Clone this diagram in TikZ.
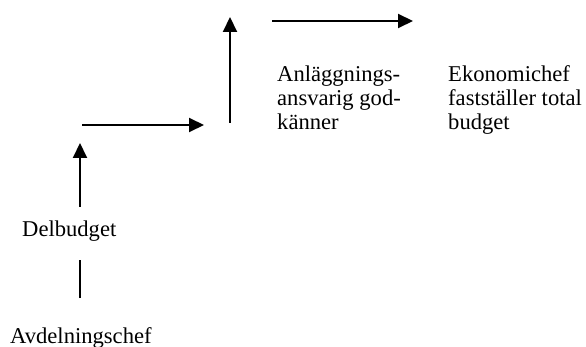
\documentclass[tikz,border=0pt]{standalone}
\usepackage{fontspec}
\setmainfont{Liberation Serif}
\usetikzlibrary{arrows.meta}
\begin{document}
\begin{tikzpicture}[x=1pt,y=-1pt,
  lbl/.style={inner sep=0pt,anchor=base west,align=left,
    font=\fontsize{22.6}{24}\selectfont},
  link/.style={line width=2pt},
  flow/.style={link,-{Triangle[length=15pt,width=14pt]}}]
\useasboundingbox (0,0) rectangle (586,347);
% text labels (base anchor sits on the last line of a block)
\node[lbl] (avd) at (10,343) {Avdelningschef};
\node[lbl] (del) at (22,237) {Delbudget};
\node[lbl] (anl) at (277,130) {Anläggnings-\\ansvarig god-\\känner};
\node[lbl] (eko) at (448,130) {Ekonomichef\\fastställer total\\budget};
% connector end points
\coordinate (p1) at (80,298);
\coordinate (p2) at (80,260);
\coordinate (p3) at (80,207);
\coordinate (p4) at (80,143);
\coordinate (p5) at (82,125);
\coordinate (p6) at (204,125);
\coordinate (p7) at (230,123);
\coordinate (p8) at (230,17);
\coordinate (p9) at (272,21);
\coordinate (p10) at (413,21);
% connectors
\draw[link] (p1) -- (p2);
\draw[flow] (p3) -- (p4);
\draw[flow] (p5) -- (p6);
\draw[flow] (p7) -- (p8);
\draw[flow] (p9) -- (p10);
\end{tikzpicture}
\end{document}
